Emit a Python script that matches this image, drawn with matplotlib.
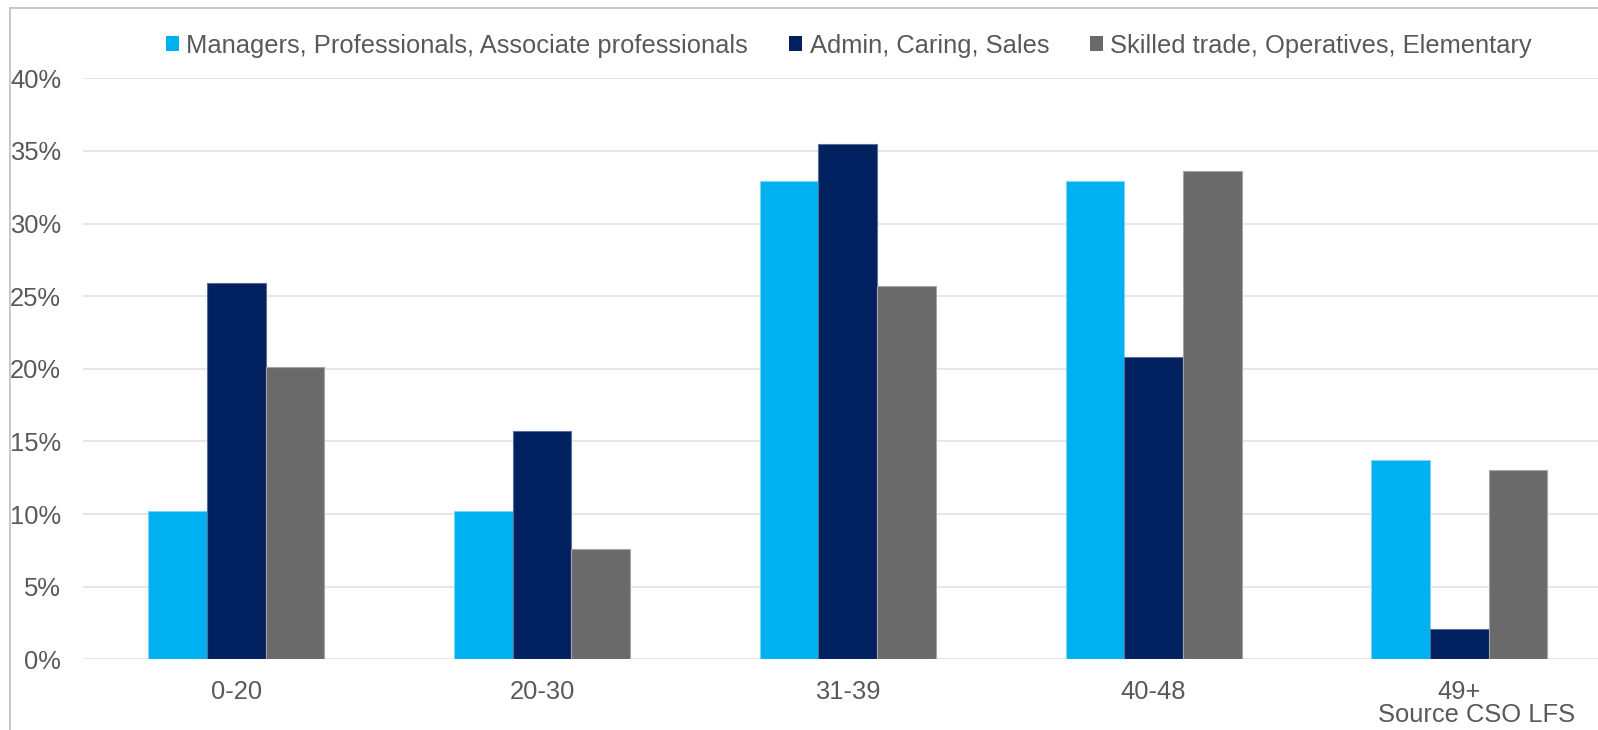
import matplotlib
matplotlib.use("Agg")
import matplotlib.pyplot as plt
from matplotlib.patches import Patch
from matplotlib.lines import Line2D
import numpy as np

plt.rcParams['font.family'] = ['Liberation Sans', 'DejaVu Sans']

categories = ["0-20", "20-30", "31-39", "40-48", "49+"]
series_names = [
    "Managers, Professionals, Associate professionals",
    "Admin, Caring, Sales",
    "Skilled trade, Operatives, Elementary",
]
managers = [10.2, 10.2, 32.9, 32.9, 13.7]
admin = [25.9, 15.7, 35.5, 20.8, 2.1]
skilled = [20.1, 7.6, 25.7, 33.6, 13.0]
y_ticks = [0, 5, 10, 15, 20, 25, 30, 35, 40]
source_note = "Source CSO LFS"

colors = ["#00B0F0", "#002060", "#6A6A6A"]
edges = ["#7FD3F5", "#5A6E9A", "#A6A6A6"]
text_color = "#595959"
fs = 18.4

W, H = 1598, 730
fig = plt.figure(figsize=(W / 100, H / 100), dpi=100)

# plot area in pixel terms
left_px, right_px = 83.3, 1612.3
zero_px, top_px = 659.2, 78.4
ax = fig.add_axes([left_px / W, (H - zero_px) / H,
                   (right_px - left_px) / W, (zero_px - top_px) / H])

x = np.arange(len(categories))
bw = 0.192
for i, (vals, c, ec) in enumerate(zip([managers, admin, skilled], colors, edges)):
    ax.bar(x + (i - 1) * bw, vals, width=bw, color=c, edgecolor=ec,
           linewidth=0.8, zorder=3)

ax.set_xlim(-0.5, 4.5)
ax.set_ylim(0, 40)
ax.set_yticks(y_ticks)
ax.set_yticklabels([f"{t}%" for t in y_ticks])
ax.set_xticks(x)
ax.set_xticklabels(categories)
ax.yaxis.grid(True, color="#E3E3E3", linewidth=1.2, zorder=0)
ax.set_axisbelow(True)
for s in ax.spines.values():
    s.set_visible(False)
ax.tick_params(axis="y", length=0, pad=16, labelsize=fs, labelcolor=text_color)
ax.tick_params(axis="x", length=0, pad=15, labelsize=fs, labelcolor=text_color)

fig.text(1477 / W, 1 - 715 / H, source_note, ha="center", va="center",
         fontsize=fs, color=text_color)

handles = [Patch(facecolor=c, edgecolor="none") for c in colors]
fig.legend(handles, series_names, loc="center", ncol=3,
           bbox_to_anchor=(849 / W, 1 - 45.5 / H), bbox_transform=fig.transFigure,
           frameon=False, fontsize=fs, labelcolor=text_color,
           handlelength=0.52, handleheight=0.52, handletextpad=0.28,
           columnspacing=1.6)

# chart frame edges (top and left)
fig.add_artist(Line2D([9.5 / W, 1.0], [1 - 8 / H, 1 - 8 / H],
                      transform=fig.transFigure, color="#BFBFBF", linewidth=1.2))
fig.add_artist(Line2D([9.5 / W, 9.5 / W], [0, 1 - 8 / H],
                      transform=fig.transFigure, color="#BFBFBF", linewidth=1.2))

fig.savefig("out.png", dpi=100)
